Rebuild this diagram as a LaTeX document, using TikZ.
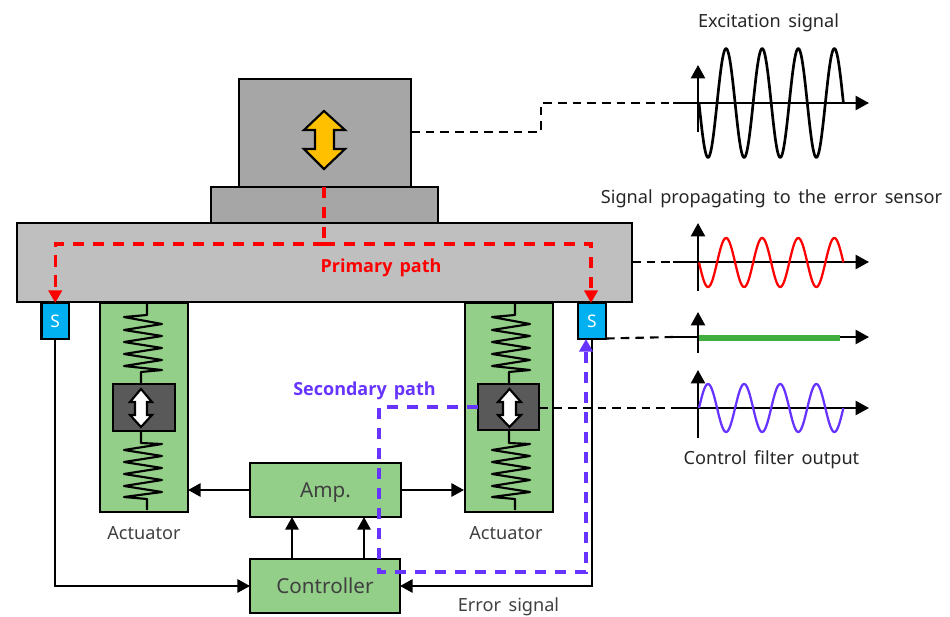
\documentclass[tikz,border=0pt]{standalone}
\usepackage{fontspec}
\setmainfont[WordSpace=1.6]{Noto Sans}
\newfontfamily\boldlab[WordSpace=1.5]{Open Sans}
\usetikzlibrary{arrows.meta,calc}
\definecolor{massgray}{HTML}{A6A6A6}
\definecolor{plategray}{HTML}{BFBFBF}
\definecolor{actgreen}{HTML}{93CF88}
\definecolor{darkcore}{HTML}{595959}
\definecolor{sensorblue}{HTML}{00B0F0}
\definecolor{arrowgold}{HTML}{FFC000}
\definecolor{secpurple}{HTML}{6633FF}
\definecolor{flatgreen}{HTML}{3FAE3F}
\definecolor{labelgray}{HTML}{404040}
\tikzset{
  size/.style 2 args={minimum width=#1*0.75pt,minimum height=#2*0.75pt},
  blockbox/.style={draw=black,line width=1.6pt,inner sep=0pt,outer sep=0pt},
  greenbox/.style={blockbox,fill=actgreen,text=labelgray,text depth=0pt,font=\fontsize{15.5}{18}\selectfont},
  lab/.style={inner sep=0pt,font=\fontsize{13.6}{16}\selectfont,text=labelgray},
  siglab/.style={inner sep=0pt,font=\fontsize{13.6}{16}\selectfont,text=black!85},
  pathlab/.style={inner sep=0pt,font=\boldlab\bfseries\fontsize{13.5}{16}\selectfont},
  solidarrow/.style={line width=1.6pt,-{Triangle[length=9.5pt,width=10pt]}},
  axisarrow/.style={line width=1.7pt,-{Triangle[length=10pt,width=10.5pt]}},
  blackdash/.style={line width=1.6pt,dash pattern=on 6.5pt off 4.5pt},
  reddash/.style={line width=2.3pt,red,dash pattern=on 8.5pt off 6.5pt},
  purpledash/.style={line width=2.3pt,secpurple,dash pattern=on 8.5pt off 6.5pt},
  pathtip/.style={-{Triangle[length=9.5pt,width=10pt]}},
  springline/.style={line width=1.6pt,line join=round},
  dblarrow/.style={draw=black,line width=1.6pt,line join=miter},
  wave/.style={line width=1.7pt,line join=round},
}
\begin{document}
\begin{tikzpicture}[x=0.75pt,y=-0.75pt]
\useasboundingbox (0,0) rectangle (950,617);
% structure
\node[blockbox,fill=massgray,size={172}{108}] (mass) at (325,133) {};
\node[blockbox,fill=massgray,size={227}{36}] (base) at (324.5,205) {};
\node[blockbox,fill=plategray,size={615}{79}] (plate) at (324.5,262.5) {};
\node[blockbox,fill=sensorblue,text=white,size={27.5}{36},font=\fontsize{13}{16}\selectfont] (sL) at (55.25,321) {S};
\node[blockbox,fill=sensorblue,text=white,size={28}{36},font=\fontsize{13}{16}\selectfont] (sR) at (592,321) {S};
\node[blockbox,fill=actgreen,size={88}{209}] (actL) at (144,407.5) {};
\node[blockbox,fill=actgreen,size={88}{209}] (actR) at (509,407.5) {};
% springs
\draw[springline] (147,303) -- (147,315) -- (124,317) -- (162,324) -- (124,330) -- (162,336) -- (124,342) -- (162,348) -- (124,354) -- (162,360) -- (124,366) -- (162,370) -- (141,372) -- (141,384);
\draw[springline] (141,431) -- (141,443) -- (162,444) -- (124,450) -- (162,456) -- (124,462) -- (162,468) -- (124,474) -- (162,480) -- (124,486) -- (162,492) -- (124,497) -- (147,499) -- (147,510);
\draw[springline] (515,303) -- (515,315) -- (492,317) -- (530,324) -- (492,330) -- (530,336) -- (492,342) -- (530,348) -- (492,354) -- (530,360) -- (492,366) -- (530,370) -- (509,372) -- (509,384);
\draw[springline] (509,430) -- (509,443) -- (530,444) -- (492,450) -- (530,456) -- (492,462) -- (530,468) -- (492,474) -- (530,480) -- (492,486) -- (530,492) -- (492,497) -- (515,499) -- (515,510);
% actuator cores
\node[blockbox,draw=black,fill=darkcore,size={62}{47}] (coreL) at (144,407.5) {};
\node[blockbox,draw=black,fill=darkcore,size={61}{46}] (coreR) at (508.5,407) {};
\draw[dblarrow,fill=white] (141,389) -- (152,402) -- (147,402) -- (147,415) -- (152,415) -- (141,427) -- (130,415) -- (135,415) -- (135,402) -- (130,402) -- cycle;
\draw[dblarrow,fill=white] (509.5,389) -- (521,402) -- (516,402) -- (516,415) -- (521,415) -- (509.5,427) -- (498,415) -- (503,415) -- (503,402) -- (498,402) -- cycle;
\draw[dblarrow,fill=arrowgold] (324,111) -- (345,130) -- (334,130) -- (334,149) -- (345,149) -- (324,169) -- (304,149) -- (315,149) -- (315,130) -- (304,130) -- cycle;
% control blocks
\node[greenbox,size={151}{54}] (amp) at (325.5,490) {Amp.};
\node[greenbox,size={150}{54}] (ctrl) at (325,586) {Controller};
% wiring
\draw[solidarrow] (amp.west) -- (actL.east |- amp.west);
\draw[solidarrow] (amp.east) -- ($(actR.west |- amp.east)+(-1,0)$);
\coordinate (ctrlA) at (292,559);
\coordinate (ctrlB) at (364,559);
\draw[solidarrow] (ctrlA) -- (ctrlA |- amp.south);
\draw[solidarrow] (ctrlB) -- (ctrlB |- amp.south);
\draw[solidarrow] (sL.south) |- (ctrl.west);
\draw[solidarrow] (sR.south) |- (ctrl.east);
% graph axes: end coordinates
\coordinate (e1) at (869,103);
\coordinate (e2) at (869,262);
\coordinate (e3) at (869,337);
\coordinate (e4) at (869,408);
\coordinate (s1) at (673,103);
\coordinate (s2) at (673,262);
\coordinate (s3) at (673,337);
\coordinate (s4) at (673,408);
% black dashed links
\coordinate (m1) at (541,132);
\coordinate (m2) at (541,103);
\draw[blackdash] (411,132) -- (m1) -- (m2) -- (s1);
\draw[blackdash] (plate.east |- s2) -- (s2);
\draw[blackdash] (606,338.5) -- (s3);
\draw[blackdash] (coreR.east |- s4) -- (s4);
% primary path
\coordinate (rs) at (324,187);
\coordinate (rj) at (324,244);
\draw[reddash] (rs) -- (rj);
\draw[reddash,pathtip] (rj) -| (sL.north);
\draw[reddash,pathtip] (rj) -| (591,303);
\node[pathlab,text=red] (plab) at (381,268) {Primary path};
% secondary path
\coordinate (pa) at (379,407);
\coordinate (pb) at (379,572);
\coordinate (pc) at (586,572);
\coordinate (pd) at (586,339);
\draw[purpledash,pathtip] (coreR.west |- pa) -- (pa) -- (pb) -- (pc) -- (pd);
\node[pathlab,text=secpurple] (slab) at (364.5,391) {Secondary path};
% graph 1
\draw[axisarrow] (s1) -- (e1);
\draw[axisarrow] (698,132) -- (698,65);
\draw[wave,line width=2pt] plot[domain=0:4,samples=161] ({699+36.1*\x},{103+54.5*sin(360*\x)});
% graph 2
\draw[axisarrow] (s2) -- (e2);
\draw[axisarrow] (698,291) -- (698,223);
\draw[wave,red] plot[domain=0:4,samples=161] ({699+36.1*\x},{262.5+24.5*sin(360*\x)});
% graph 3
\draw[axisarrow] (s3) -- (e3);
\draw[axisarrow] (698,353) -- (698,312);
\draw[flatgreen,line width=5pt] (699,338) -- (840,338);
% graph 4
\draw[axisarrow] (s4) -- (e4);
\draw[axisarrow] (698,438) -- (698,370);
\draw[wave,secpurple] plot[domain=0:4,samples=161] ({699+36.1*\x},{408-24*sin(360*\x)});
% labels
\node[siglab] (t1) at (768.5,23) {Excitation signal};
\node[siglab] (t2) at (771.5,199) {Signal propagating to the error sensor};
\node[siglab] (t3) at (771.5,460) {Control filter output};
\node[lab] (t4) at (144,533) {Actuator};
\node[lab] (t5) at (506,533) {Actuator};
\node[lab] (t6) at (508.5,607) {Error signal};
\end{tikzpicture}
\end{document}
